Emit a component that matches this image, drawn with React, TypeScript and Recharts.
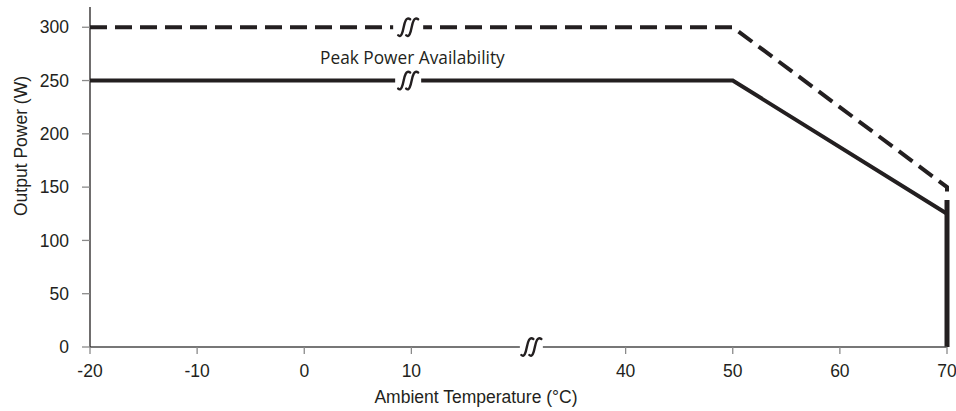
import { LineChart, Line, XAxis, YAxis, ReferenceDot, Label } from 'recharts';

// temperatures in °C, power in W
const tempTicks = [-20, -10, 0, 10, 40, 50, 60, 70];
const powerTicks = [0, 50, 100, 150, 200, 250, 300];

const peakTemp = [-20, 50, 70, 70];
const peakPower = [300, 300, 150, 146];

const ratedTemp = [-20, 50, 70];
const ratedPower = [250, 250, 125];

const cutoffTemp = [70, 70];
const cutoffPower = [138, 0];

// the x axis is broken between 10 and 40 °C, that stretch is drawn 10 units wide
const BREAK_FROM = 10;
const BREAK_SHIFT = 10;
const toAxis = (t: number) => (t > BREAK_FROM ? t - BREAK_SHIFT : t);
const fromAxis = (v: number) => (v > BREAK_FROM ? v + BREAK_SHIFT : v);

// where the "//" marks sit (axis units)
const lineBreakAt = 9.7;
const axisBreakAt = 21.2;

const INK = '#231f20';
const FONT = '"Liberation Sans", Arial, Helvetica, sans-serif';

const toPoints = (xs: number[], ys: number[]) => xs.map((t, i) => ({ x: toAxis(t), y: ys[i] }));

const peakData = toPoints(peakTemp, peakPower);
const ratedData = toPoints(ratedTemp, ratedPower);
const cutoffData = toPoints(cutoffTemp, cutoffPower);

function BreakMark(props: any) {
  const { cx, cy, gap = 26 } = props;
  if (cx == null || cy == null) return null;
  const s = (c: number) =>
    `M${c - 6},${cy + 8} C${c - 3},${cy + 11} ${c - 1.5},${cy + 5} ${c - 0.5},${cy} C${c + 0.5},${cy - 5} ${c + 2},${cy - 11} ${c + 6},${cy - 8}`;
  return (
    <g>
      <rect x={cx - gap / 2} y={cy - 4.5} width={gap} height={9} fill="#fff" />
      <path d={s(cx - 4)} fill="none" stroke={INK} strokeWidth={2.4} strokeLinecap="round" />
      <path d={s(cx + 4)} fill="none" stroke={INK} strokeWidth={2.4} strokeLinecap="round" />
    </g>
  );
}

function PeakLabel(props: any) {
  const { cx, cy } = props;
  if (cx == null || cy == null) return null;
  return (
    <text x={cx + 1} y={cy - 17} textAnchor="middle" fill={INK} fontSize={17.3} fontFamily='"Open Sans", "Noto Sans", sans-serif'>
      Peak Power Availability
    </text>
  );
}

export default function App() {
  const tickStyle = { fill: INK, fontSize: 17.5, fontFamily: FONT };
  return (
    <div style={{ position: 'absolute', left: 0, top: 0, background: '#fff' }}>
      <LineChart width={956} height={411} margin={{ top: 7, right: 9, bottom: 0, left: 0 }}>
        <XAxis
          dataKey="x"
          type="number"
          domain={[-20, 60]}
          ticks={tempTicks.map(toAxis)}
          tickFormatter={(v: number) => `${fromAxis(v)}`}
          height={64}
          tickSize={7}
          tickMargin={11}
          tick={tickStyle}
          axisLine={{ stroke: '#4a4a4a', strokeWidth: 1.5 }}
          tickLine={{ stroke: '#8a8a8a', strokeWidth: 1.3 }}
        >
          <Label
            content={() => (
              <text x={476} y={403} textAnchor="middle" fill={INK} fontSize={17.5} fontFamily={FONT}>
                Ambient Temperature (°C)
              </text>
            )}
          />
        </XAxis>
        <YAxis
          dataKey="y"
          type="number"
          domain={[0, 319]}
          ticks={powerTicks}
          width={90}
          tickSize={8}
          tickMargin={13}
          tick={tickStyle}
          axisLine={{ stroke: INK, strokeWidth: 1.3 }}
          tickLine={{ stroke: '#8a8a8a', strokeWidth: 1.3 }}
        >
          <Label
            content={() => (
              <text
                x={27}
                y={146}
                transform="rotate(-90 27 146)"
                textAnchor="middle"
                fill={INK}
                fontSize={17.5}
                fontFamily={FONT}
              >
                Output Power (W)
              </text>
            )}
          />
        </YAxis>

        <Line
          data={peakData}
          dataKey="y"
          type="linear"
          stroke={INK}
          strokeWidth={4}
          strokeDasharray="17 8"
          dot={false}
          activeDot={false}
          isAnimationActive={false}
        />
        <Line
          data={ratedData}
          dataKey="y"
          type="linear"
          stroke={INK}
          strokeWidth={4}
          dot={false}
          activeDot={false}
          isAnimationActive={false}
        />
        <Line
          data={cutoffData}
          dataKey="y"
          type="linear"
          stroke={INK}
          strokeWidth={5}
          dot={false}
          activeDot={false}
          isAnimationActive={false}
        />

        <ReferenceDot x={lineBreakAt} y={300} r={0} shape={(p: any) => <BreakMark {...p} gap={30} />} />
        <ReferenceDot x={lineBreakAt} y={250} r={0} shape={(p: any) => <BreakMark {...p} gap={26} />} />
        <ReferenceDot x={axisBreakAt} y={0} r={0} shape={(p: any) => <BreakMark {...p} gap={23} />} />
        <ReferenceDot x={toAxis(10)} y={250} r={0} shape={(p: any) => <PeakLabel {...p} />} />
      </LineChart>
    </div>
  );
}
